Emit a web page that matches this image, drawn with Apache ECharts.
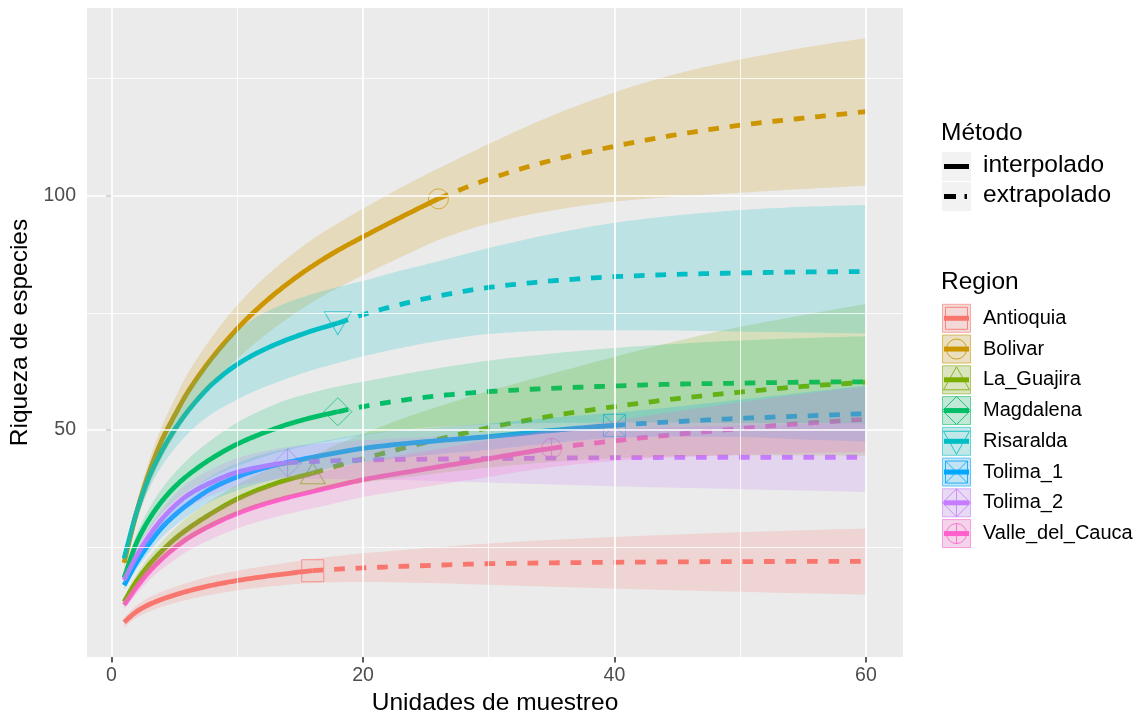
<!DOCTYPE html>
<html><head><meta charset="utf-8">
<script src="https://cdn.jsdelivr.net/npm/echarts@6/dist/echarts.min.js"></script>
<style>html,body{margin:0;padding:0;background:#fff}#c{width:1144px;height:717px}</style>
</head><body><div id="c"></div>
<script>
// ---------------- data ----------------
const regions = ['Antioquia','Bolivar','La_Guajira','Magdalena','Risaralda','Tolima_1','Tolima_2','Valle_del_Cauca'];
const observedN = [16, 26, 16, 18, 18, 40, 14, 35];
const xTicks = [0, 20, 40, 60];
const yTicks = [50, 100];
const methodLabels = ['interpolado', 'extrapolado'];

const xAntioquia  = [1,2,3,4,5,6,8,10,12,14,16,20,25,30,40,50,60];
const sAntioquia  = [9.0,11.3,12.8,13.9,14.8,15.6,16.9,17.9,18.7,19.4,20.0,20.6,21.1,21.5,21.8,21.95,22.0];
const loAntioquia = [7.9,10.0,11.3,12.3,13.1,13.8,14.9,15.8,16.5,17.0,17.4,17.6,17.4,17.0,16.2,15.5,14.9];
const hiAntioquia = [10.1,12.6,14.3,15.5,16.5,17.4,18.9,20.0,20.9,21.7,22.5,23.7,24.8,25.8,27.2,28.2,29.0];

const xBolivar  = [1,2,3,4,5,6,7,8,10,12,14,16,18,20,22,24,26,30,35,40,45,50,55,60];
const sBolivar  = [21.7,32.5,41,47.8,53,57.8,61.8,65.4,71.6,76.8,81.2,85,88.3,91.2,94,96.7,99.3,103.5,107.5,110.5,113,115,116.5,117.9];
const loBolivar = [20.5,30.3,38,44,48.7,53,56.5,59.7,65.2,69.8,73.8,77.3,80.3,83,85.6,88.1,90.5,94,96.8,98.7,99.8,100.6,101.4,102.1];
const hiBolivar = [22.9,34.5,43.5,50.8,56.5,61.8,66,69.9,76.6,82.1,86.7,90.7,94.1,97.2,100.2,103.1,105.8,111,117,122,126,129,131.5,133.6];

const xLaGuajira  = [1,2,3,4,5,6,8,10,12,14,16,18,20,23,26,30,35,40,45,50,55,60];
const sLaGuajira  = [13.4,17.8,21.3,24.2,26.7,28.8,32.3,35.3,37.6,39.4,40.8,42.4,43.9,46,48,50.5,53,55,56.7,58.1,59.3,60.2];
const loLaGuajira = [12.3,16.4,19.6,22.2,24.5,26.3,29.5,32.2,34.2,35.8,37,38,38.8,39.8,40.8,42,43.2,44,44.4,44.6,44.6,44.5];
const hiLaGuajira = [14.5,19.2,23,26.2,28.9,31.3,35.1,38.4,41,43,44.6,47,49.2,52.3,55,58.3,62,65.6,69,72,74.5,76.9];

const xMagdalena  = [1,2,3,4,5,6,8,10,12,14,16,18,20,23,26,30,35,40,45,50,55,60];
const sMagdalena  = [18.5,26,31,34.8,37.8,40.2,44,47,49.3,51.2,52.7,53.9,55.0,56.3,57.3,58.2,58.9,59.4,59.8,60.0,60.2,60.3];
const loMagdalena = [17.3,24.3,28.8,32.2,34.8,36.8,40,42.3,44.2,45.7,47,48,48.9,50,50.7,51.2,51.5,51.6,51.6,51.5,51.5,51.4];
const hiMagdalena = [19.7,27.8,33.3,37.5,40.8,43.6,48,51.6,54.3,56.5,58,59.3,60.3,61.8,63.2,64.8,66.3,67.5,68.4,69.1,69.6,70.0];

const xRisaralda  = [1,2,3,4,5,6,7,8,10,12,14,16,18,20,23,26,30,35,40,45,50,55,60];
const sRisaralda  = [22.6,32.5,40,45.5,50,53.8,57,59.8,64,67,69.3,71.2,72.8,74.6,76.8,78.6,80.4,81.8,82.7,83.2,83.5,83.7,83.8];
const loRisaralda = [21.5,30.8,37.5,42.3,46,49,51.5,53.5,56.5,59,61,62.8,64.3,65.7,67.5,69,70.5,71.2,71.3,71.2,71,70.8,70.6];
const hiRisaralda = [23.7,34.2,42.5,48.7,54,58.5,62.3,65.8,71.2,74.8,77.2,79,80.5,81.8,84,86,88.8,91.8,94.2,95.8,96.9,97.6,98.0];

const xTolima1  = [1,2,3,4,5,6,8,10,12,14,16,18,20,25,30,35,40,45,50,55,60];
const sTolima1  = [16.9,21.8,25.8,29.2,31.8,34,37.6,40,41.8,43.1,44.2,45.2,46.1,47.5,48.6,49.9,51.0,51.8,52.5,53,53.5];
const loTolima1 = [16.0,20.4,24.0,27.1,29.5,31.5,34.9,37.1,38.8,40.1,41.2,42.2,43.1,44.6,45.8,47.2,48.3,48.6,48.5,48.0,47.5];
const hiTolima1 = [17.8,23.2,27.6,31.3,34.1,36.5,40.3,42.9,44.8,46.1,47.2,48.2,49.1,50.4,51.4,52.6,53.7,55.0,56.5,58.0,59.5];

const xTolima2  = [1,2,3,4,5,6,8,10,12,14,20,30,40,50,60];
const sTolima2  = [18.0,23.2,27.5,31,33.8,36,38.9,41.0,42.2,43.0,43.6,43.9,44.1,44.2,44.2];
const loTolima2 = [17,21.8,25.6,28.8,31.3,33.4,36.1,38,39,39.6,39.5,38.8,38,37.4,36.8];
const hiTolima2 = [19,24.6,29.3,33,36.1,38.6,41.7,44,45.4,46.4,47.8,49,50.2,51,51.6];

const xValle  = [1,2,3,4,5,6,8,10,12,14,16,18,20,25,30,35,40,45,50,55,60];
const sValle  = [12.7,16.5,19.8,22.5,24.8,26.8,29.8,32.2,34.1,35.6,36.9,38.2,39.4,41.7,43.9,46.1,47.7,49.1,50.3,51.4,52.3];
const loValle = [11.8,15.1,18.0,20.3,22.3,24.1,26.8,29.0,30.7,32.1,33.3,34.5,35.7,37.9,40.0,42.1,43.4,44.2,44.7,45.1,45.3];
const hiValle = [13.6,17.9,21.6,24.7,27.3,29.5,32.8,35.4,37.5,39.1,40.5,41.9,43.1,45.5,47.8,50.1,52.0,54.0,55.9,57.7,59.3];

// ---------------- styles ----------------
const colors = ['#F8766D','#CD9600','#7CAE00','#00BE67','#00BFC4','#00A9FF','#C77CFF','#FF61CC'];
const shapes = ['square','circle','triangle','diamond','triangleDown','squareX','diamondPlus','circlePlus'];
const FONT = '"Liberation Sans", Arial, sans-serif';

const xs  = [xAntioquia,xBolivar,xLaGuajira,xMagdalena,xRisaralda,xTolima1,xTolima2,xValle];
const ss  = [sAntioquia,sBolivar,sLaGuajira,sMagdalena,sRisaralda,sTolima1,sTolima2,sValle];
const los = [loAntioquia,loBolivar,loLaGuajira,loMagdalena,loRisaralda,loTolima1,loTolima2,loValle];
const his = [hiAntioquia,hiBolivar,hiLaGuajira,hiMagdalena,hiRisaralda,hiTolima1,hiTolima2,hiValle];

function rgba(hex, a){
  const n = parseInt(hex.slice(1),16);
  return 'rgba(' + ((n>>16)&255) + ',' + ((n>>8)&255) + ',' + (n&255) + ',' + a + ')';
}
const symbolPaths = {
  square: 'path://M0,0L20,0L20,20L0,20Z',
  circle: 'path://M10,0A10,10,0,1,1,10,20A10,10,0,1,1,10,0Z',
  triangle: 'path://M10,0L20,17.32L0,17.32Z',
  diamond: 'path://M10,0L20,10L10,20L0,10Z',
  triangleDown: 'path://M0,0L20,0L10,17.32Z',
  squareX: 'path://M0,0L20,0L20,20L0,20Z M0,0L20,20 M20,0L0,20',
  diamondPlus: 'path://M10,0L20,10L10,20L0,10Z M10,0L10,20 M0,10L20,10',
  circlePlus: 'path://M10,0A10,10,0,1,1,10,20A10,10,0,1,1,10,0Z M10,0L10,20 M0,10L20,10'
};
const symbolSizes = {
  square: 22, circle: 20, triangle: [25,21], diamond: 28, triangleDown: [27,23],
  squareX: 22, diamondPlus: 28, circlePlus: 20
};

// monotone cubic sampling in pixel space (smooth drawing between the read values)
function monoSamples(pts, steps){
  const n = pts.length; if (n < 2) return pts.slice();
  const dx = [], m = [];
  for (let i=0;i<n-1;i++){ dx.push(pts[i+1][0]-pts[i][0]); m.push((pts[i+1][1]-pts[i][1])/dx[i]); }
  const t = new Array(n);
  t[0] = m[0]; t[n-1] = m[n-2];
  for (let i=1;i<n-1;i++){
    if (m[i-1]*m[i] <= 0) t[i] = 0;
    else { const w1 = 2*dx[i]+dx[i-1], w2 = dx[i]+2*dx[i-1]; t[i] = (w1+w2)/(w1/m[i-1]+w2/m[i]); }
  }
  const out = [pts[0]];
  for (let i=0;i<n-1;i++){
    const h = dx[i], y0 = pts[i][1], y1 = pts[i+1][1];
    for (let s=1;s<=steps;s++){
      const u = s/steps, u2 = u*u, u3 = u2*u;
      out.push([pts[i][0]+u*h, (2*u3-3*u2+1)*y0 + (u3-2*u2+u)*h*t[i] + (-2*u3+3*u2)*y1 + (u3-u2)*h*t[i+1]]);
    }
  }
  return out;
}
function curveParts(i, api){
  const pts = xs[i].map((x, k) => api.coord([x, ss[i][k]]));
  const smp = monoSamples(pts, 12);
  const xn = api.coord([observedN[i], 0])[0];
  const inter = smp.filter(p => p[0] <= xn + 0.01);
  const extra = smp.filter(p => p[0] >= xn - 0.01);
  return [inter, extra];
}

// ---------------- series ----------------
const series = [];

// grid lines (ggplot style) via markLine
series.push({
  type: 'line', data: [], z: 1, silent: true, animation: false,
  markLine: {
    silent: true, symbol: ['none','none'], label: {show: false}, animation: false,
    lineStyle: {color: '#FFFFFF', width: 1.7, type: 'solid'},
    data: [
      {xAxis: 10, lineStyle: {width: 0.8}}, {xAxis: 30, lineStyle: {width: 0.8}}, {xAxis: 50, lineStyle: {width: 0.8}},
      {yAxis: 25, lineStyle: {width: 0.8}}, {yAxis: 75, lineStyle: {width: 0.8}}, {yAxis: 125, lineStyle: {width: 0.8}},
      {xAxis: 0}, {xAxis: 20}, {xAxis: 40}, {xAxis: 60},
      {yAxis: 50}, {yAxis: 100}
    ]
  }
});

// markers at observed sample size
regions.forEach((name, i) => {
  const k = xs[i].indexOf(observedN[i]);
  series.push({
    type: 'scatter', name: name, z: 2, silent: true,
    symbol: symbolPaths[shapes[i]], symbolSize: symbolSizes[shapes[i]], symbolKeepAspect: false,
    itemStyle: {color: 'rgba(0,0,0,0)', borderColor: rgba(colors[i], 0.85), borderWidth: 1},
    data: [[observedN[i], ss[i][k]]]
  });
});

// interpolated (solid) and extrapolated (dashed) curves
series.push({
  type: 'custom', z: 3, silent: true, clip: true,
  encode: {x: 0, y: 1},
  data: regions.map((r, i) => [observedN[i], ss[i][xs[i].indexOf(observedN[i])]]),
  renderItem: function (params, api) {
    const i = params.dataIndex;
    const parts = curveParts(i, api);
    return {type: 'group', children: [
      {type: 'polyline', shape: {points: parts[0]}, style: {fill: 'none', stroke: colors[i], lineWidth: 4.8, lineCap: 'butt', lineJoin: 'round'}},
      {type: 'polyline', shape: {points: parts[1]}, style: {fill: 'none', stroke: colors[i], lineWidth: 4.8, lineCap: 'butt', lineDash: [10.7, 10.8]}}
    ]};
  }
});

// confidence ribbons (alpha 0.2), drawn on top like ggiNEXT
series.push({
  type: 'custom', z: 4, silent: true, clip: true,
  encode: {x: 0, y: 1},
  data: regions.map(() => [30, 60]),
  renderItem: function (params, api) {
    const i = params.dataIndex;
    const up = xs[i].map((x, k) => api.coord([x, his[i][k]]));
    const lo = xs[i].map((x, k) => api.coord([x, los[i][k]]));
    const pts = monoSamples(up, 10).concat(monoSamples(lo, 10).reverse());
    return {type: 'polygon', shape: {points: pts}, style: {fill: rgba(colors[i], 0.2), stroke: null}};
  }
});

// ---------------- legend (graphic) ----------------
const g = [];
const KX = 942, KW = 29, KC = KX + KW/2, LX = 983;
function txt(x, y, t, size){
  g.push({type: 'text', x: x, y: y, silent: true,
    style: {text: t, font: size + 'px ' + FONT, fill: '#000000', textAlign: 'left', textVerticalAlign: 'middle', verticalAlign: 'middle'}});
}
txt(941, 133, 'Método', 24.5);
[166.5, 196.5].forEach((cy, j) => {
  g.push({type: 'rect', silent: true, shape: {x: KX, y: cy - 14.5, width: KW, height: 29}, style: {fill: '#F2F2F2'}});
  txt(LX, cy - 1.5, methodLabels[j], 24.5);
});
g.push({type: 'line', silent: true, shape: {x1: 944, y1: 166.5, x2: 969, y2: 166.5}, style: {stroke: '#000', lineWidth: 5}});
g.push({type: 'line', silent: true, shape: {x1: 944, y1: 196.5, x2: 956, y2: 196.5}, style: {stroke: '#000', lineWidth: 5}});
g.push({type: 'line', silent: true, shape: {x1: 964.5, y1: 196.5, x2: 967, y2: 196.5}, style: {stroke: '#000', lineWidth: 5}});

txt(941, 282, 'Region', 24.5);
regions.forEach((name, i) => {
  const cy = 318.3 + i * 30.75;
  const c = colors[i];
  g.push({type: 'rect', silent: true, shape: {x: KX, y: cy - 14.5, width: KW, height: 29}, style: {fill: '#F2F2F2'}});
  g.push({type: 'rect', silent: true, shape: {x: KX + 0.5, y: cy - 14, width: KW - 1, height: 28},
    style: {fill: rgba(c, 0.2), stroke: rgba(c, 0.55), lineWidth: 1}});
  g.push({type: 'line', silent: true, shape: {x1: KX + 2, y1: cy, x2: KX + KW - 2, y2: cy}, style: {stroke: c, lineWidth: 5}});
  const st = {fill: null, stroke: rgba(c, 0.85), lineWidth: 1};
  const sh = shapes[i];
  const r = 10;
  if (sh === 'square' || sh === 'squareX') {
    g.push({type: 'rect', silent: true, shape: {x: KC - 11, y: cy - 11, width: 22, height: 22}, style: st});
    if (sh === 'squareX') {
      g.push({type: 'line', silent: true, shape: {x1: KC - 11, y1: cy - 11, x2: KC + 11, y2: cy + 11}, style: st});
      g.push({type: 'line', silent: true, shape: {x1: KC + 11, y1: cy - 11, x2: KC - 11, y2: cy + 11}, style: st});
    }
  } else if (sh === 'circle' || sh === 'circlePlus') {
    g.push({type: 'circle', silent: true, shape: {cx: KC, cy: cy, r: r}, style: st});
    if (sh === 'circlePlus') {
      g.push({type: 'line', silent: true, shape: {x1: KC, y1: cy - r, x2: KC, y2: cy + r}, style: st});
      g.push({type: 'line', silent: true, shape: {x1: KC - r, y1: cy, x2: KC + r, y2: cy}, style: st});
    }
  } else if (sh === 'triangle') {
    g.push({type: 'polygon', silent: true, shape: {points: [[KC, cy - 13], [KC + 13, cy + 10], [KC - 13, cy + 10]]}, style: st});
  } else if (sh === 'triangleDown') {
    g.push({type: 'polygon', silent: true, shape: {points: [[KC - 13, cy - 10], [KC + 13, cy - 10], [KC, cy + 13]]}, style: st});
  } else if (sh === 'diamond' || sh === 'diamondPlus') {
    g.push({type: 'polygon', silent: true, shape: {points: [[KC, cy - 14], [KC + 14, cy], [KC, cy + 14], [KC - 14, cy]]}, style: st});
    if (sh === 'diamondPlus') {
      g.push({type: 'line', silent: true, shape: {x1: KC, y1: cy - 14, x2: KC, y2: cy + 14}, style: st});
      g.push({type: 'line', silent: true, shape: {x1: KC - 14, y1: cy, x2: KC + 14, y2: cy}, style: st});
    }
  }
  txt(LX, cy, name, 20);
});

// ---------------- chart ----------------
const chart = echarts.init(document.getElementById('c'), null, {renderer: 'canvas'});
chart.setOption({
  animation: false,
  backgroundColor: '#FFFFFF',
  grid: {left: 87, top: 8, width: 816, height: 649, show: true, backgroundColor: '#EBEBEB', borderWidth: 0,
         containLabel: false, outerBoundsMode: 'none'},
  xAxis: {
    type: 'value', min: -1.95, max: 62.95,
    name: 'Unidades de muestreo', nameLocation: 'middle', nameGap: 33,
    nameTextStyle: {fontFamily: FONT, fontSize: 24.5, color: '#000000'},
    axisLine: {show: false},
    axisTick: {show: true, length: 5.5, lineStyle: {color: '#333333', width: 1.6}, customValues: xTicks},
    axisLabel: {show: true, fontFamily: FONT, fontSize: 19.5, color: '#4D4D4D', margin: 9, customValues: xTicks},
    splitLine: {show: false}
  },
  yAxis: {
    type: 'value', min: 1.6, max: 140,
    name: 'Riqueza de especies', nameLocation: 'middle', nameGap: 39, nameRotate: 90,
    nameTextStyle: {fontFamily: FONT, fontSize: 24.5, color: '#000000'},
    axisLine: {show: false},
    axisTick: {show: true, length: 5.5, lineStyle: {color: '#333333', width: 1.6}, customValues: yTicks},
    axisLabel: {show: true, fontFamily: FONT, fontSize: 19.5, color: '#4D4D4D', margin: 11, customValues: yTicks},
    splitLine: {show: false}
  },
  series: series,
  graphic: {elements: g}
});
</script></body></html>
